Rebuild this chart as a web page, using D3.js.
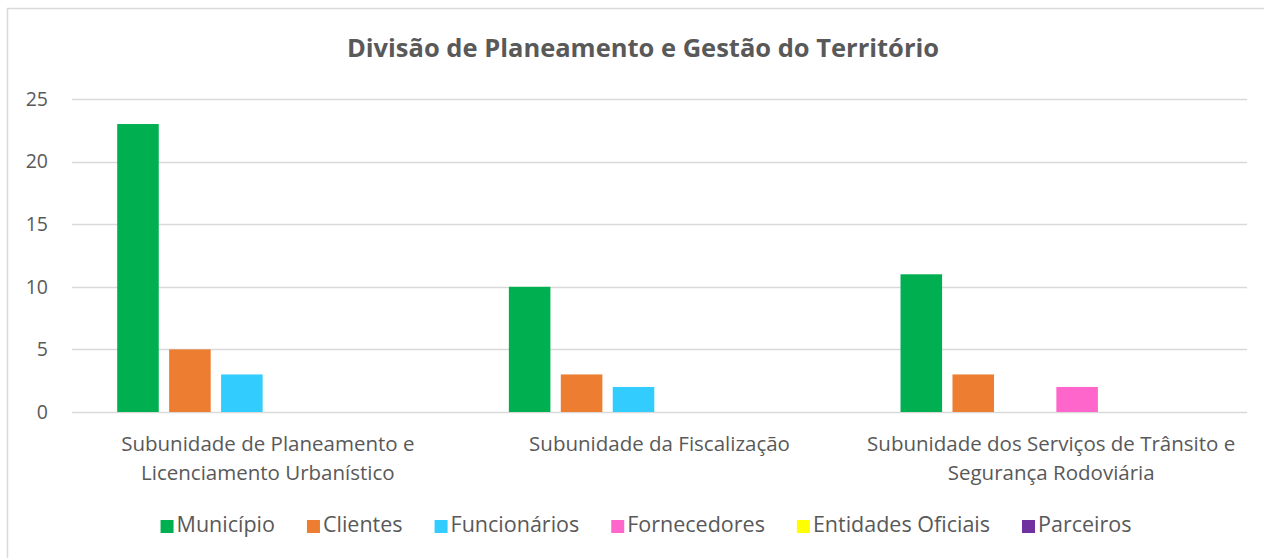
<!DOCTYPE html>
<html>
<head>
<meta charset="utf-8">
<script src="https://cdn.jsdelivr.net/npm/d3@7"></script>
<style>
  body { margin: 0; background: #fff; }
  svg { display: block; }
</style>
</head>
<body>
<svg id="chart"></svg>
<script>
// data
var categories = [
  ["Subunidade de Planeamento e", "Licenciamento Urbanístico"],
  ["Subunidade da Fiscalização"],
  ["Subunidade dos Serviços de Trânsito e", "Segurança Rodoviária"]
];
var seriesNames = ["Município", "Clientes", "Funcionários", "Fornecedores", "Entidades Oficiais", "Parceiros"];
var seriesColors = ["#00B050", "#ED7D31", "#33CCFF", "#FF66CC", "#FFFF00", "#7030A0"];
var municipio   = [23, 10, 11];
var clientes    = [5, 3, 3];
var funcionarios = [3, 2, 0];
var fornecedores = [0, 0, 2];
var entidades   = [0, 0, 0];
var parceiros   = [0, 0, 0];
var yTicks = [0, 5, 10, 15, 20, 25];

var values = [municipio, clientes, funcionarios, fornecedores, entidades, parceiros];

var W = 1264, H = 558;
var margin = { top: 99, right: 17, bottom: 146, left: 72 };
var width = W - margin.left - margin.right,
    height = H - margin.top - margin.bottom;

var font = "'Open Sans', sans-serif";
var labelSize = "20.5px";

var svg = d3.select("#chart").attr("width", W).attr("height", H);

// outer chart frame
svg.append("rect")
  .attr("x", 7.5).attr("y", 8.5)
  .attr("width", W).attr("height", H)
  .attr("fill", "#fff")
  .attr("stroke", "#d9d9d9")
  .attr("stroke-width", 1.5);

svg.append("text")
  .attr("x", 643).attr("y", 57)
  .attr("text-anchor", "middle")
  .attr("font-family", font)
  .attr("font-weight", "bold")
  .attr("font-size", "25.5px")
  .attr("fill", "#595959")
  .text("Divisão de Planeamento e Gestão do Território");

var g = svg.append("g")
  .attr("transform", "translate(" + margin.left + "," + margin.top + ")");

var x0 = d3.scaleBand()
  .domain(d3.range(categories.length))
  .range([0, width]);

var x1 = d3.scaleBand()
  .domain(d3.range(seriesNames.length))
  .range([0, x0.bandwidth()])
  .paddingInner(0.2)
  .paddingOuter(0.87);

var y = d3.scaleLinear()
  .domain([0, 25])
  .range([height, 0]);

// gridlines
g.append("g")
  .selectAll("line")
  .data(yTicks)
  .enter().append("line")
  .attr("x1", 0).attr("x2", width)
  .attr("y1", function(d) { return Math.round(y(d)) + 0.5; })
  .attr("y2", function(d) { return Math.round(y(d)) + 0.5; })
  .attr("stroke", "#d9d9d9")
  .attr("stroke-width", 1.5);

// y axis labels
var yAxis = g.append("g")
  .call(d3.axisLeft(y).tickValues(yTicks).tickSize(0).tickPadding(24));
yAxis.select(".domain").remove();
yAxis.selectAll("text")
  .attr("font-family", font)
  .attr("font-size", "19.5px")
  .attr("fill", "#595959");

// bars
var groups = g.selectAll(".cat")
  .data(categories)
  .enter().append("g")
  .attr("class", "cat")
  .attr("transform", function(d, i) { return "translate(" + x0(i) + ",0)"; });

groups.selectAll("rect")
  .data(function(d, i) {
    return values.map(function(v, s) { return { s: s, v: v[i] }; });
  })
  .enter().append("rect")
  .attr("x", function(d) { return x1(d.s); })
  .attr("width", x1.bandwidth())
  .attr("y", function(d) { return y(d.v); })
  .attr("height", function(d) { return height - y(d.v); })
  .attr("fill", function(d) { return seriesColors[d.s]; });

// category labels
groups.each(function(lines, i) {
  var t = d3.select(this).append("text")
    .attr("text-anchor", "middle")
    .attr("font-family", font)
    .attr("font-size", labelSize)
    .attr("fill", "#595959")
    .attr("transform", "translate(" + (x0.bandwidth() / 2) + "," + (height + 39) + ")");
  lines.forEach(function(line, k) {
    t.append("tspan").attr("x", 0).attr("dy", k === 0 ? 0 : 29).text(line);
  });
});

// legend
var legend = svg.append("g");
var items = legend.selectAll("g")
  .data(seriesNames)
  .enter().append("g");
items.append("rect")
  .attr("width", 13).attr("height", 13)
  .attr("y", -12)
  .attr("fill", function(d, i) { return seriesColors[i]; });
items.append("text")
  .attr("x", 16)
  .attr("font-family", font)
  .attr("font-size", "21.5px")
  .attr("fill", "#595959")
  .text(function(d) { return d; });
var gap = 32;
var xpos = 0;
items.each(function() {
  d3.select(this).attr("transform", "translate(" + xpos + ",0)");
  xpos += this.getBBox().width + gap;
});
var legW = xpos - gap;
legend.attr("transform", "translate(" + (646 - legW / 2) + ",532)");
</script>
</body>
</html>
